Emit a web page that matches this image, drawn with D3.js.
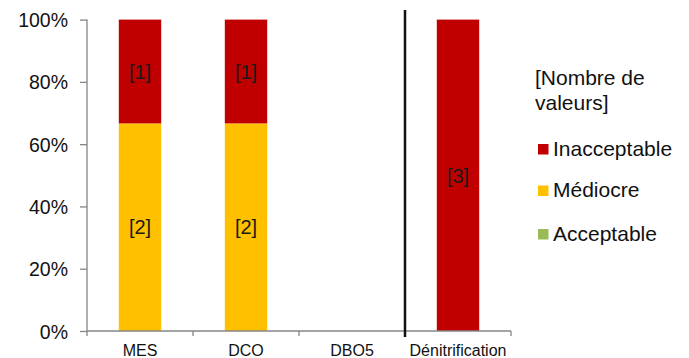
<!DOCTYPE html>
<html>
<head>
<meta charset="utf-8">
<script src="https://cdn.jsdelivr.net/npm/d3@7"></script>
<style>
  html, body { margin: 0; padding: 0; background: #fff; }
  svg { display: block; font-family: "Liberation Sans", Arial, sans-serif; }
</style>
</head>
<body>
<svg id="chart" width="689" height="358"></svg>
<script>
// Parameters measured and number of values per quality class
const categories = ["MES", "DCO", "DBO5", "Dénitrification"];
const acceptable   = [0, 0, 0, 0];
const mediocre     = [2, 2, 0, 0];
const inacceptable = [1, 1, 0, 3];
const yTicks = [0, 0.2, 0.4, 0.6, 0.8, 1];

const classes = [
  { key: "Acceptable",   values: acceptable,   color: "#9BBB59" },
  { key: "Médiocre",     values: mediocre,     color: "#FFC000" },
  { key: "Inacceptable", values: inacceptable, color: "#C00000" }
];

const svg = d3.select("#chart");
const plotLeft = 87, plotRight = 511, plotTop = 19.6, plotBottom = 331;
const textColor = "#111";

const x = d3.scaleBand().domain(categories).range([plotLeft, plotRight]).paddingInner(0.6).paddingOuter(0.3);
const xb = d3.scaleBand().domain(categories).range([plotLeft, plotRight]);
const y = d3.scaleLinear().domain([0, 1]).range([plotBottom, plotTop]);

// Stacked shares per category
const rows = categories.map((c, i) => {
  const r = { cat: c };
  classes.forEach(k => r[k.key] = k.values[i]);
  r.total = classes.reduce((s, k) => s + k.values[i], 0);
  return r;
});
const stack = d3.stack().keys(classes.map(k => k.key))
  .value((d, key) => d.total ? d[key] / d.total : 0);
const series = stack(rows);

const g = svg.append("g");
series.forEach((s, si) => {
  const cls = classes[si];
  s.forEach((seg, i) => {
    const v = cls.values[i];
    if (!v) return;
    const y0 = y(seg[0]), y1 = y(seg[1]);
    g.append("rect")
      .attr("x", x(categories[i])).attr("width", x.bandwidth())
      .attr("y", y1).attr("height", y0 - y1)
      .attr("fill", cls.color);
    g.append("text")
      .attr("x", x(categories[i]) + x.bandwidth() / 2)
      .attr("y", (y0 + y1) / 2)
      .attr("dy", "0.36em")
      .attr("text-anchor", "middle")
      .attr("font-size", 20).attr("fill", "#1a1a1a")
      .text("[" + v + "]");
  });
});

// Y axis
const yAxis = d3.axisLeft(y).tickValues(yTicks).tickFormat(d3.format(".0%")).tickSize(7).tickPadding(12);
const ya = svg.append("g").attr("transform", `translate(${plotLeft},0)`).call(yAxis);
ya.select(".domain").attr("stroke", "#868686").attr("stroke-width", 1.3).attr("d", `M0,${plotTop}V${plotBottom}`);
ya.selectAll(".tick line").attr("stroke", "#868686").attr("stroke-width", 1.3);
ya.selectAll(".tick text").attr("font-size", 19.5).attr("fill", textColor)
  .attr("font-family", "Liberation Sans, Arial, sans-serif").attr("dy", "0.36em");

// X axis with ticks at category boundaries
const xa = svg.append("g").attr("transform", `translate(0,${plotBottom})`);
xa.append("line").attr("x1", plotLeft).attr("x2", plotRight).attr("y1", 0).attr("y2", 0)
  .attr("stroke", "#868686").attr("stroke-width", 1.3);
const bounds = categories.map(c => xb(c)).concat([plotRight]);
xa.selectAll("line.b").data(bounds).join("line").attr("class", "b")
  .attr("x1", d => d).attr("x2", d => d).attr("y1", 0).attr("y2", 5)
  .attr("stroke", "#868686").attr("stroke-width", 1.3);
xa.selectAll("text").data(categories).join("text")
  .attr("x", d => xb(d) + xb.bandwidth() / 2)
  .attr("y", 25)
  .attr("text-anchor", "middle")
  .attr("font-size", 16).attr("fill", textColor)
  .text(d => d);

// Separator before the last parameter
const sepX = xb("Dénitrification");
svg.append("line").attr("x1", sepX).attr("x2", sepX).attr("y1", 10).attr("y2", plotBottom + 6)
  .attr("stroke", "#111").attr("stroke-width", 2.5);

// Legend
const lg = svg.append("g");
lg.append("text").attr("x", 535).attr("y", 85).attr("font-size", 21).attr("fill", textColor).text("[Nombre de");
lg.append("text").attr("x", 535).attr("y", 110).attr("font-size", 21).attr("fill", textColor).text("valeurs]");
const legendItems = classes.slice().reverse();
const baselines = [155.5, 197, 240.5];
legendItems.forEach((k, i) => {
  lg.append("rect").attr("x", 538).attr("y", baselines[i] - 11.5).attr("width", 10.5).attr("height", 10.5).attr("fill", k.color);
  lg.append("text").attr("x", 553).attr("y", baselines[i])
    .attr("font-size", 21).attr("fill", textColor).text(k.key);
});
</script>
</body>
</html>
